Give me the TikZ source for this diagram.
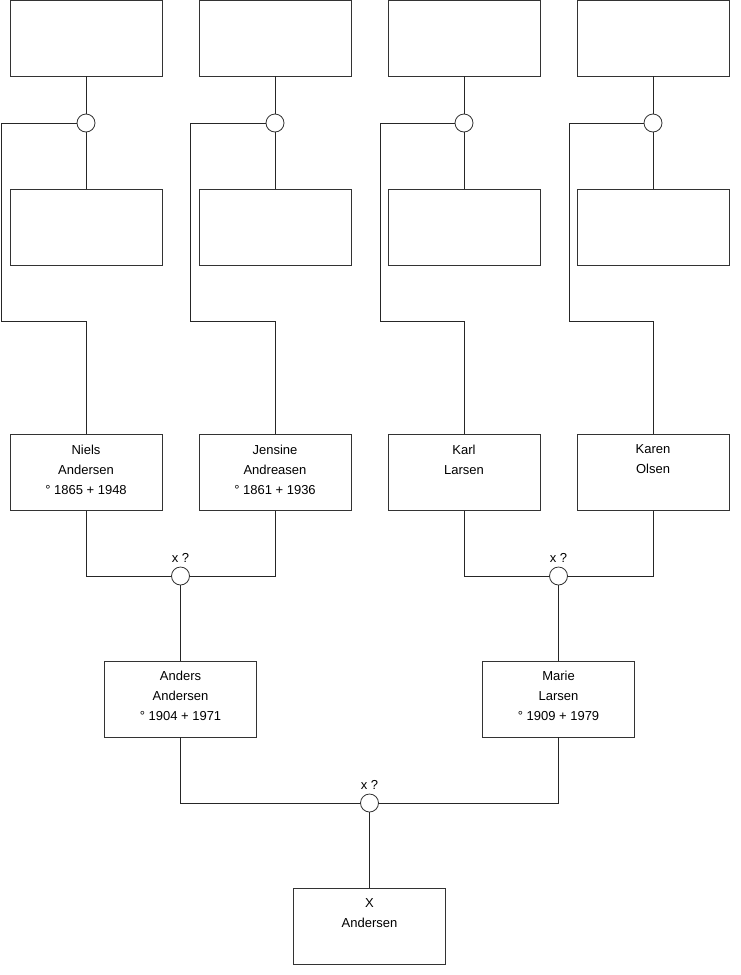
\documentclass[tikz,border=0pt]{standalone}
\usepackage{fontspec}
\setmainfont{Liberation Sans}
\begin{document}
\begin{tikzpicture}[
      x=1pt, y=-1pt,
      font=\fontsize{13}{20}\selectfont,
      box/.style={draw=black!80, line width=0.8pt, minimum width=152pt,
      minimum height=76pt, inner sep=0pt},
      nametext/.style={anchor=north, align=center, yshift=-7.5pt, inner sep=3pt},
      person/.style={box, label={[nametext]north:{#1}}},
      union/.style={circle, draw=black!80, line width=0.8pt, minimum size=18pt,
      inner sep=0pt, fill=white},
      marriage/.style={union, label={[inner sep=1pt, label distance=2.5pt]above:x ?}},
      link/.style={line width=0.8pt, black!85}
    ]
    \useasboundingbox (0,0) rectangle (740,975);

    % unknown ancestors
    \node[box] (top1) at (86,38) {};
    \node[box] (top2) at (275,38) {};
    \node[box] (top3) at (464,38) {};
    \node[box] (top4) at (653,38) {};
    \node[union] (u1) at (86,123) {};
    \node[union] (u2) at (275,123) {};
    \node[union] (u3) at (464,123) {};
    \node[union] (u4) at (653,123) {};
    \node[box] (mid1) at (86,227) {};
    \node[box] (mid2) at (275,227) {};
    \node[box] (mid3) at (464,227) {};
    \node[box] (mid4) at (653,227) {};

    % grandparents
    \node[person={Niels\\Andersen\\° 1865 + 1948}] (niels) at (86,472.5) {};
    \node[person={Jensine\\Andreasen\\° 1861 + 1936}] (jensine) at (275,472.5) {};
    \node[person={Karl\\Larsen}] (karl) at (464,472.5) {};
    \node[person={Karen\\Olsen}] (karen) at (653,472.5) {};
    \node[marriage] (m1) at (180.5,576) {};
    \node[marriage] (m2) at (558.5,576) {};

    % parents
    \node[person={Anders\\Andersen\\° 1904 + 1971}] (anders) at (180.5,699) {};
    \node[person={Marie\\Larsen\\° 1909 + 1979}] (marie) at (558.5,699) {};
    \node[marriage] (m3) at (369.5,803) {};
    \node[person={X\\Andersen}] (child) at (369.5,926) {};

    \coordinate (k1) at (1,321);
    \coordinate (k2) at (190,321);
    \coordinate (k3) at (380,321);
    \coordinate (k4) at (569,321);

    \foreach \i/\p in {1/niels, 2/jensine, 3/karl, 4/karen} {
      \draw[link] (top\i) -- (u\i);
      \draw[link] (u\i) -- (mid\i);
      \draw[link] (u\i.west) -| (k\i) -| (\p.north);
    }

    \draw[link] (niels.south) |- (m1.west);
    \draw[link] (jensine.south) |- (m1.east);
    \draw[link] (karl.south) |- (m2.west);
    \draw[link] (karen.south) |- (m2.east);
    \draw[link] (m1) -- (anders);
    \draw[link] (m2) -- (marie);
    \draw[link] (anders.south) |- (m3.west);
    \draw[link] (marie.south) |- (m3.east);
    \draw[link] (m3) -- (child);
  \end{tikzpicture}
\end{document}
